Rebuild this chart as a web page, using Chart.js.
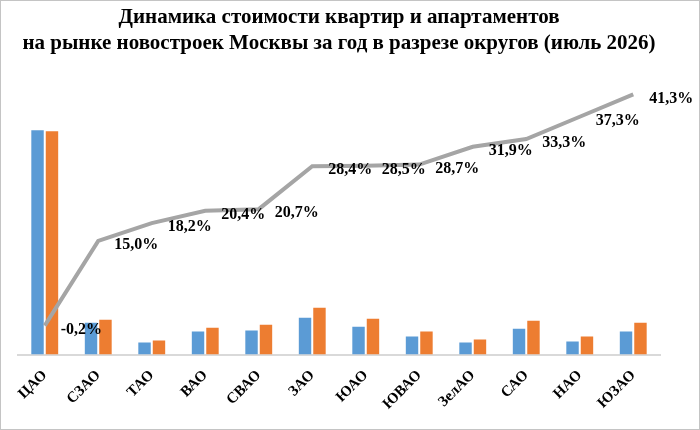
<!DOCTYPE html>
<html lang="ru">
<head>
<meta charset="utf-8">
<title>Динамика стоимости квартир и апартаментов</title>
<script src="https://cdn.jsdelivr.net/npm/chart.js@4.4.1/dist/chart.umd.min.js"></script>
<style>
    html, body { margin: 0; padding: 0; background: #fff; }
    #wrap {
        width: 700px;
        height: 430px;
        box-sizing: border-box;
        border: 1px solid #c4c4c4;
        position: relative;
    }
    #districtChart { display: block; }
</style>
</head>
<body>
<div id="wrap">
    <canvas id="districtChart" width="698" height="428"></canvas>
</div>

<script>
// --- Daten ---
const okruga = ["ЦАО", "СЗАО", "ТАО", "ВАО", "СВАО", "ЗАО", "ЮАО", "ЮВАО", "ЗелАО", "САО", "НАО", "ЮЗАО"];

// Balken: Stand vor einem Jahr / aktueller Stand (relative Einheiten)
const stoimostGodNazad = [225, 32, 12, 23, 24, 37, 28, 18, 12, 26, 13, 23];
const stoimostSeichas  = [224, 35, 14, 27, 30, 47, 36, 23, 15, 34, 18, 32];

// Linie: Veränderung in Prozent
const dinamika = [-0.2, 15.0, 18.2, 20.4, 20.7, 28.4, 28.5, 28.7, 31.9, 33.3, 37.3, 41.3];

const serif = "'Liberation Serif', 'Times New Roman', serif";

// --- Beschriftung der Linienpunkte ---
const linienLabels = {
    id: "linienLabels",
    afterDatasetsDraw(chart) {
        const meta = chart.getDatasetMeta(2);
        const ctx = chart.ctx;
        ctx.save();
        ctx.font = "bold 16px " + serif;
        ctx.fillStyle = "#000";
        ctx.textAlign = "left";
        ctx.textBaseline = "middle";
        meta.data.forEach((pt, i) => {
            const txt = dinamika[i].toFixed(1).replace(".", ",") + "%";
            ctx.fillText(txt, pt.x + 16, pt.y + 4);
        });
        ctx.restore();
    }
};

// --- Chart erstellen ---
const ctx = document.getElementById("districtChart").getContext("2d");

new Chart(ctx, {
    type: "bar",
    data: {
        labels: okruga,
        datasets: [
            {
                label: "Год назад",
                data: stoimostGodNazad,
                backgroundColor: "#5B9BD5",
                yAxisID: "y",
                order: 1,
                barPercentage: 0.86,
                categoryPercentage: 0.54
            },
            {
                label: "Сейчас",
                data: stoimostSeichas,
                backgroundColor: "#ED7D31",
                yAxisID: "y",
                order: 1,
                barPercentage: 0.86,
                categoryPercentage: 0.54
            },
            {
                type: "line",
                label: "Динамика",
                data: dinamika,
                borderColor: "#A5A5A5",
                borderWidth: 4,
                pointRadius: 0,
                tension: 0,
                fill: false,
                yAxisID: "y2",
                order: 0
            }
        ]
    },
    options: {
        responsive: false,
        animation: false,
        devicePixelRatio: 1,
        layout: {
            padding: { left: 17, right: 39, top: 0, bottom: 12 }
        },
        plugins: {
            legend: { display: false },
            tooltip: { enabled: false },
            title: {
                display: true,
                text: [
                    "Динамика стоимости квартир и апартаментов",
                    "на рынке новостроек Москвы за год в разрезе округов (июль 2026)"
                ],
                color: "#000",
                font: { family: serif, size: 21, weight: "bold", lineHeight: 1.25 },
                padding: { top: 3, bottom: 14 }
            }
        },
        scales: {
            x: {
                grid: { display: false },
                border: { display: true, color: "#d9d9d9", width: 2 },
                ticks: {
                    color: "#000",
                    font: { family: serif, size: 15, weight: "bold" },
                    minRotation: 45,
                    maxRotation: 45,
                    padding: 4
                }
            },
            y: {
                display: false,
                min: 0,
                max: 285
            },
            y2: {
                display: false,
                min: -5.4,
                max: 45.6
            }
        }
    },
    plugins: [linienLabels]
});
</script>
</body>
</html>
